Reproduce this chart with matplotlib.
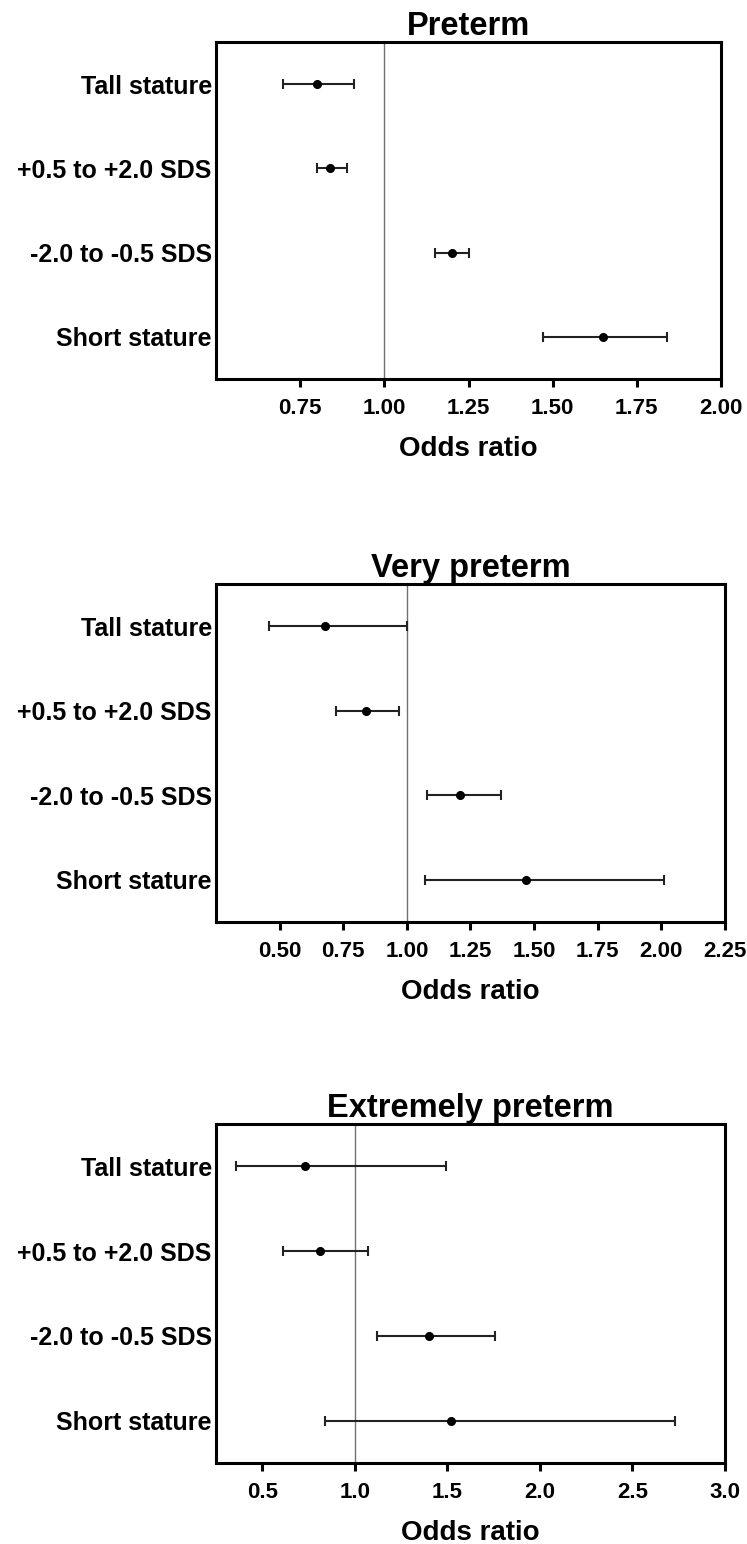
import matplotlib
matplotlib.use("Agg")
import matplotlib.pyplot as plt

plt.rcParams['font.family'] = ['Liberation Sans', 'DejaVu Sans']
plt.rcParams['font.weight'] = 'bold'

# Data (odds ratio with 95% CI)
categories = ["Tall stature", "+0.5 to +2.0 SDS", "-2.0 to -0.5 SDS", "Short stature"]

preterm_or = [0.80, 0.84, 1.20, 1.65]
preterm_lo = [0.70, 0.80, 1.15, 1.47]
preterm_hi = [0.91, 0.89, 1.25, 1.84]

very_or = [0.68, 0.84, 1.21, 1.47]
very_lo = [0.46, 0.72, 1.08, 1.07]
very_hi = [1.00, 0.97, 1.37, 2.01]

extreme_or = [0.73, 0.81, 1.40, 1.52]
extreme_lo = [0.36, 0.61, 1.12, 0.84]
extreme_hi = [1.49, 1.07, 1.76, 2.73]

panels = [
    ("Preterm", preterm_or, preterm_lo, preterm_hi,
     (0.5, 2.0), [0.75, 1.00, 1.25, 1.50, 1.75, 2.00], "{:.2f}"),
    ("Very preterm", very_or, very_lo, very_hi,
     (0.25, 2.25), [0.50, 0.75, 1.00, 1.25, 1.50, 1.75, 2.00, 2.25], "{:.2f}"),
    ("Extremely preterm", extreme_or, extreme_lo, extreme_hi,
     (0.25, 3.0), [0.5, 1.0, 1.5, 2.0, 2.5, 3.0], "{:.1f}"),
]

# axes boxes in figure fractions [left, bottom, width, height]
boxes = [
    [0.2892, 0.7545, 0.6760, 0.2183],
    [0.2892, 0.4029, 0.6813, 0.2189],
    [0.2892, 0.0525, 0.6813, 0.2195],
]

fig = plt.figure(figsize=(7.47, 15.44), dpi=100)

for (title, orv, lo, hi, xlim, ticks, fmt), box in zip(panels, boxes):
    ax = fig.add_axes(box)
    y = list(range(len(categories)))
    err = [[o - l for o, l in zip(orv, lo)], [h - o for o, h in zip(orv, hi)]]
    ax.axvline(1.0, color='#707070', lw=1.0, zorder=1)
    ax.errorbar(orv, y, xerr=err, fmt='o', color='black', ecolor='#222222',
                ms=5.5, elinewidth=1.5, capsize=3.5, capthick=1.5, zorder=3)
    ax.set_xlim(*xlim)
    ax.set_ylim(3.5, -0.5)
    ax.set_yticks(y)
    ax.set_yticklabels(categories, fontsize=18, fontweight='bold')
    ax.set_xticks(ticks)
    ax.set_xticklabels([fmt.format(t) for t in ticks], fontsize=16, fontweight='bold')
    ax.tick_params(axis='y', length=0, pad=3)
    ax.tick_params(axis='x', length=6, width=2.2, pad=8)
    for sp in ax.spines.values():
        sp.set_linewidth(2.2)
    ax.set_xlabel("Odds ratio", fontsize=20, fontweight='bold', labelpad=12)
    ax.set_title(title, fontsize=23.5, fontweight='bold', pad=4)

fig.savefig("out.png", dpi=100)
